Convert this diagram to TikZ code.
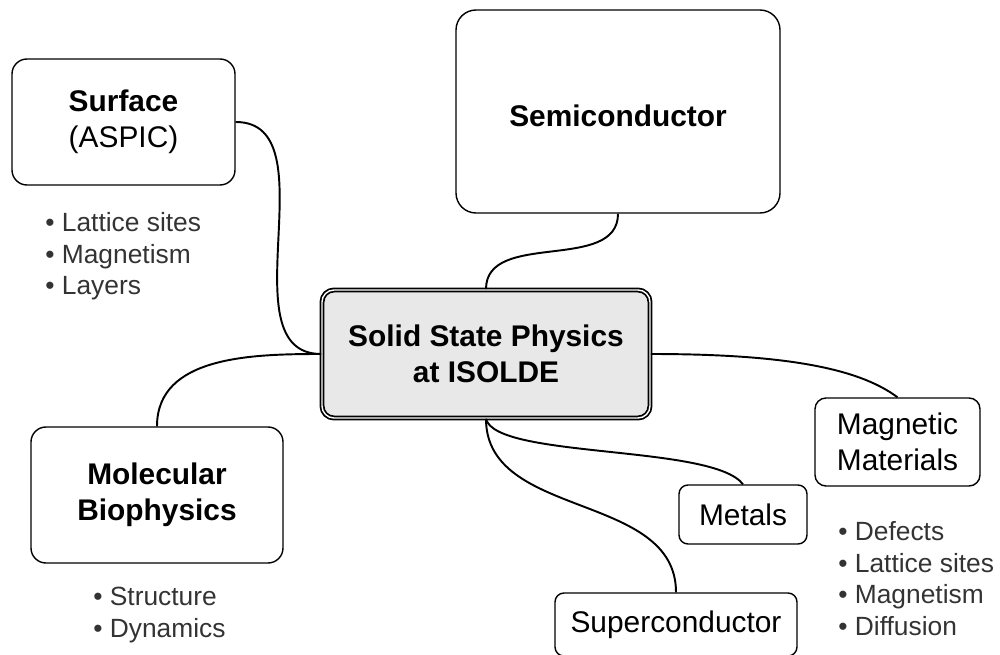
\documentclass[tikz,border=0pt]{standalone}
\usepackage{fontspec}
\setmainfont{Liberation Sans}
\newlength{\du}
\setlength{\du}{0.02cm}
\definecolor{hubfill}{rgb}{0.910000, 0.910000, 0.910000}
\definecolor{listcolor}{rgb}{0.200000, 0.200000, 0.200000}
\tikzset{
  topic/.style={draw, line width=0.8pt, align=center, inner sep=0pt,
    font=\fontsize{17}{20.5}\selectfont},
  hub/.style={topic, fill=hubfill, double=white, double distance=0.8pt,
    line width=1pt, rounded corners=12\du,
    font=\fontsize{17}{20.5}\selectfont\bfseries},
  itemlist/.style={anchor=north west, align=left, inner sep=0pt,
    text=listcolor, font=\fontsize{15}{18}\selectfont},
  link/.style={line width=1.1pt}
}

\begin{document}
\begin{tikzpicture}
\useasboundingbox (0\du,0\du) rectangle (1000\du,-655\du);
\definecolor{dialinecolor}{rgb}{0.000000, 0.000000, 0.000000}
\pgfsetstrokecolor{dialinecolor}
% setfont left to latex
\node[hub, minimum width=328\du, minimum height=128\du] (isolde) at (486\du,-354\du){Solid State Physics\\at ISOLDE};
% setfont left to latex
\node[topic, rounded corners=20\du, minimum width=324\du, minimum height=203\du, text height=31\du, font=\fontsize{17}{20.5}\selectfont\bfseries] (semi) at (618\du,-111.5\du){Semiconductor};
\node[topic, rounded corners=15\du, minimum width=223\du, minimum height=126\du] (surface) at (123.5\du,-122\du){\textbf{Surface}\\(ASPIC)};
\node[topic, rounded corners=15\du, minimum width=252\du, minimum height=136\du, font=\fontsize{17}{20.5}\selectfont\bfseries] (molbio) at (157\du,-495\du){Molecular\\Biophysics};
\node[topic, rounded corners=11\du, minimum width=165\du, minimum height=88\du] (magnetic) at (897.5\du,-442\du){Magnetic\\Materials};
\node[topic, rounded corners=9\du, minimum width=128\du, minimum height=59\du] (metals) at (743\du,-514.5\du){Metals};
\node[topic, rounded corners=9\du, minimum width=242\du, minimum height=63\du] (superc) at (676\du,-624.5\du){Superconductor};
% setfont left to latex
\node[itemlist] (surfacelist) at (45\du,-212\du){• Lattice sites\\• Magnetism\\• Layers};
\node[itemlist] (molbiolist) at (93\du,-587\du){• Structure\\• Dynamics};
\node[itemlist] (magneticlist) at (838\du,-521\du){• Defects\\• Lattice sites\\• Magnetism\\• Diffusion};
{
\definecolor{dialinecolor}{rgb}{0.000000, 0.000000, 0.000000}
\pgfsetstrokecolor{dialinecolor}
\draw[link] (surface.east) to[out=0, in=180] (isolde.west);
\draw[link] (isolde.west) to[out=180, in=90] (molbio.north);
\draw[link] (semi.south) to[out=-90, in=90] (isolde.north);
\draw[link] (isolde.east) .. controls +(130\du,0\du) and +(-40\du,30\du) .. (magnetic.north);
\draw[link] (isolde.south) .. controls +(10\du,-40\du) and +(-30\du,40\du) .. (metals.north);
\draw[link] (isolde.south) to[out=-90, in=90] (superc.north);
}
\end{tikzpicture}
\end{document}
